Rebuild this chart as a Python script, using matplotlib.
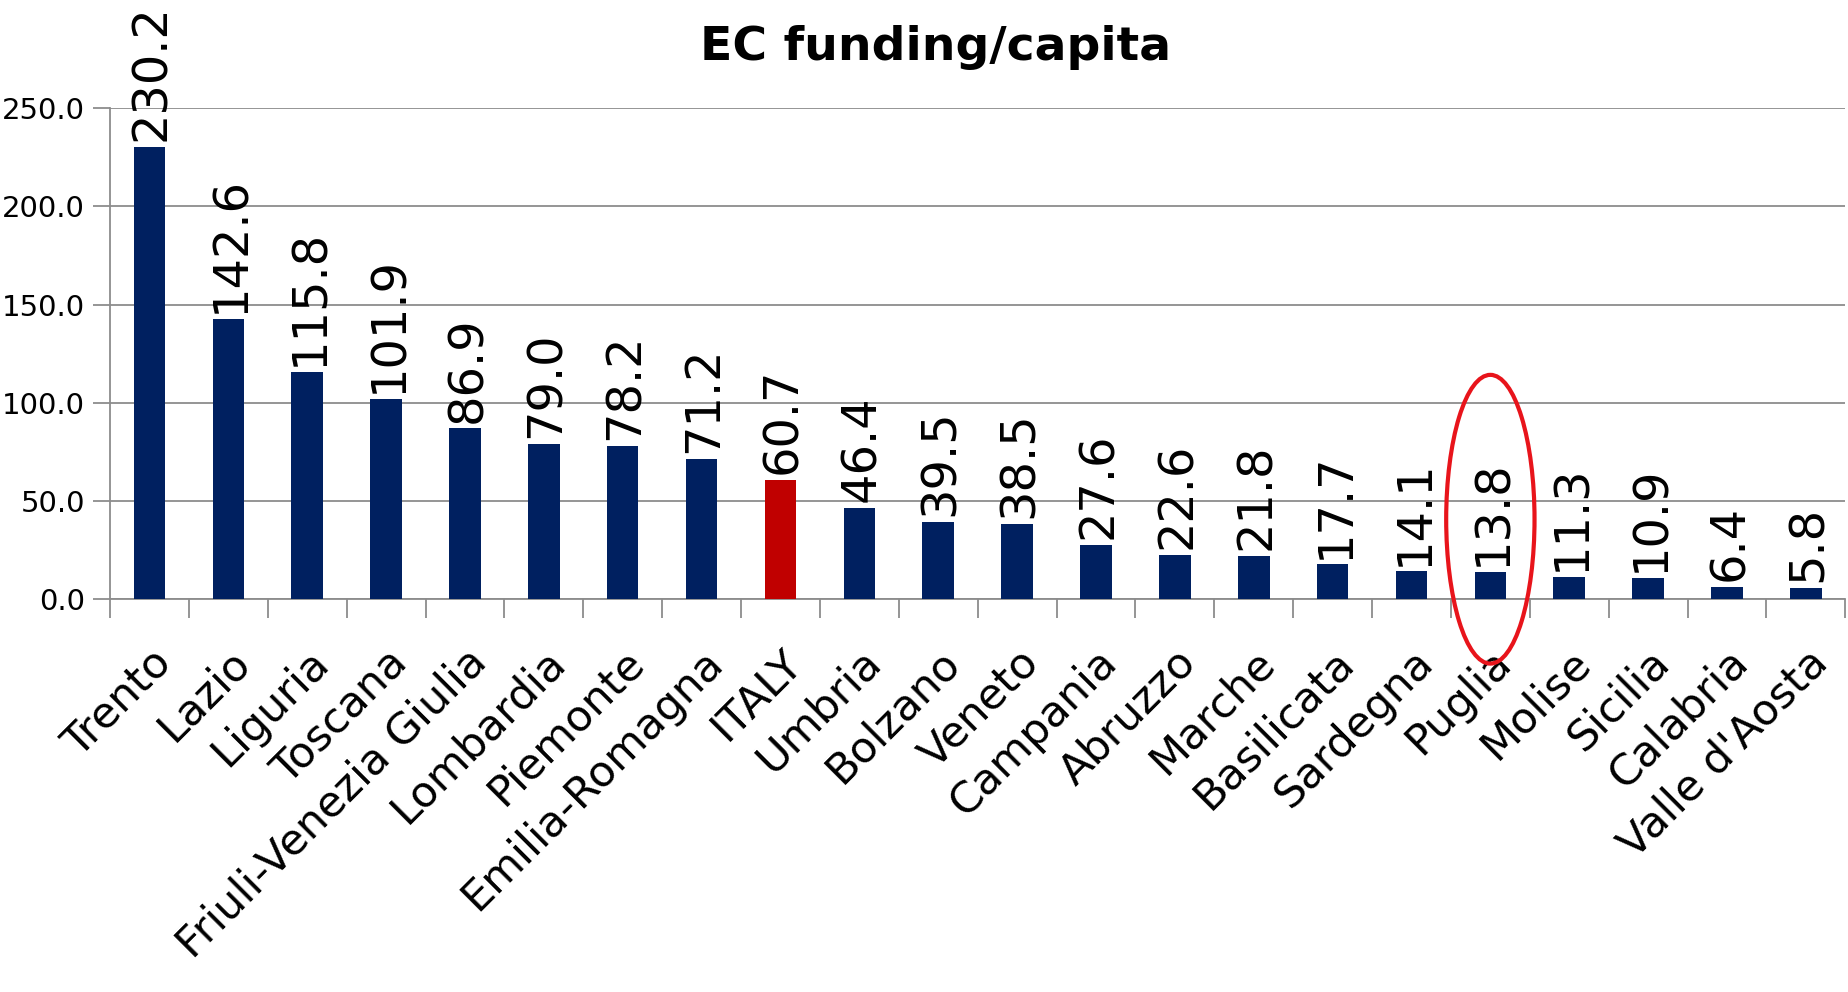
import numpy as np
import matplotlib
matplotlib.use("Agg")
import matplotlib.pyplot as plt
from matplotlib.patches import Ellipse

# regions sorted by EC funding per capita
regions = ["Trento", "Lazio", "Liguria", "Toscana", "Friuli-Venezia Giulia",
           "Lombardia", "Piemonte", "Emilia-Romagna", "ITALY", "Umbria",
           "Bolzano", "Veneto", "Campania", "Abruzzo", "Marche", "Basilicata",
           "Sardegna", "Puglia", "Molise", "Sicilia", "Calabria", "Valle d'Aosta"]
funding = [230.2, 142.6, 115.8, 101.9, 86.9, 79.0, 78.2, 71.2, 60.7, 46.4,
           39.5, 38.5, 27.6, 22.6, 21.8, 17.7, 14.1, 13.8, 11.3, 10.9, 6.4, 5.8]
highlight = "ITALY"
circled = "Puglia"

navy = "#002060"
red = "#C00000"
grey = "#8C8C8C"

fig = plt.figure(figsize=(18.49, 9.92), dpi=100)
ax = fig.add_axes([0.0595, 0.396, 0.9385, 0.495])

x = np.arange(len(regions))
colors = [red if r == highlight else navy for r in regions]
ax.bar(x, funding, width=0.4, color=colors, zorder=3)

# value labels, rotated
for xi, v in zip(x, funding):
    ax.text(xi + 0.03, v + 3, "%.1f" % v, rotation=90, ha="center", va="bottom",
            fontsize=34.5, color="black", zorder=4)

ax.set_xlim(-0.5, len(regions) - 0.5)
ax.set_ylim(0, 250)
ax.set_yticks(np.arange(0, 251, 50))
ax.set_yticklabels(["%.1f" % t for t in np.arange(0, 251, 50)], fontsize=21)
ax.yaxis.grid(True, color=grey, linewidth=1.3, zorder=0)

# category ticks sit between the bars
ax.set_xticks(np.arange(-0.5, len(regions), 1.0))
ax.set_xticklabels([])
ax.set_xticks(x, minor=True)
ax.set_xticklabels(regions, minor=True, rotation=45, ha="right",
                   rotation_mode="anchor", fontsize=31)
ax.tick_params(axis="x", which="major", length=14, width=1.3, color=grey)
ax.tick_params(axis="x", which="minor", length=0, pad=30)
ax.tick_params(axis="y", length=12, width=1.3, color=grey, pad=6)

for s in ["top", "right"]:
    ax.spines[s].set_visible(False)
for s in ["left", "bottom"]:
    ax.spines[s].set_color(grey)
    ax.spines[s].set_linewidth(1.3)

# red ring round Puglia
pi = regions.index(circled)
ax.add_patch(Ellipse((pi, 40.7), 1.12, 147, fill=False, edgecolor="#E8141B",
                     linewidth=3, clip_on=False, zorder=5))

fig.text(0.506, 0.952, "EC funding/capita", ha="center", va="center",
         fontsize=34, fontweight="bold")

fig.savefig("out.png", dpi=100)
